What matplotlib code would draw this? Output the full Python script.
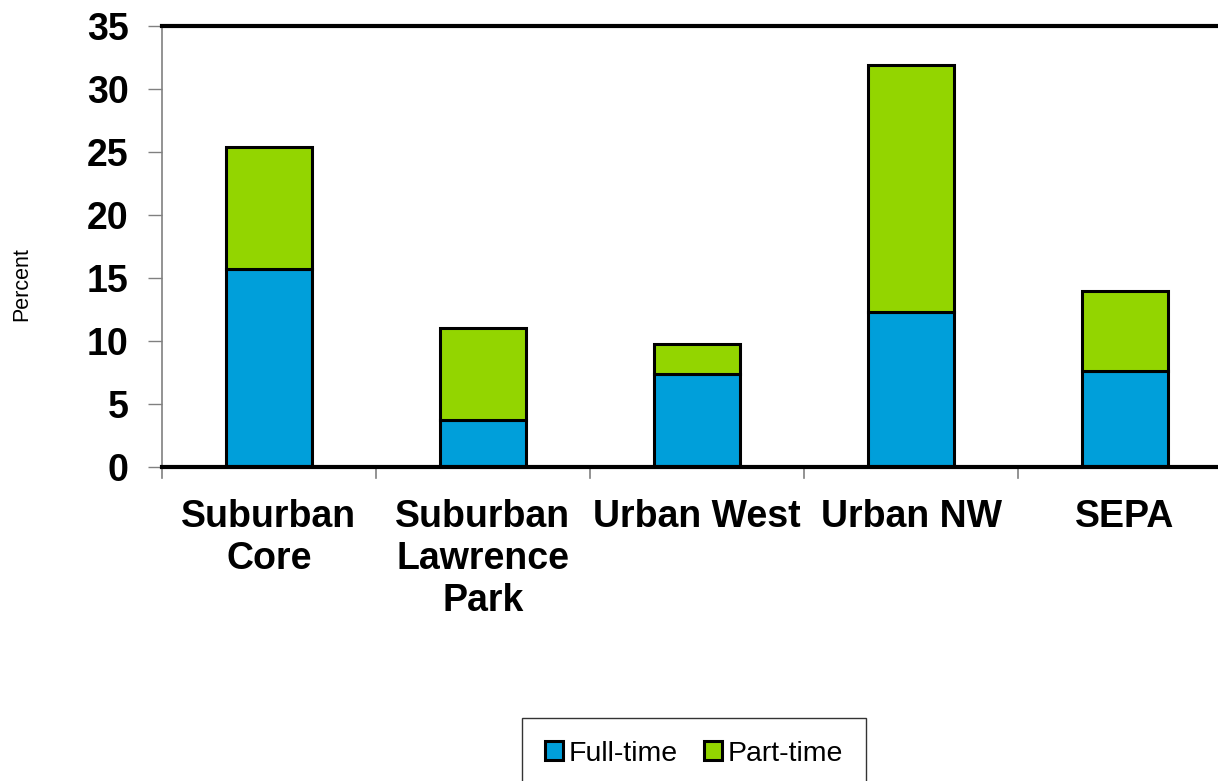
import matplotlib.pyplot as plt
import numpy as np

# Data
categories = ["Suburban\nCore", "Suburban\nLawrence\nPark", "Urban West", "Urban NW", "SEPA"]
full_time = [15.7, 3.7, 7.4, 12.3, 7.6]
part_time = [9.7, 7.3, 2.4, 19.6, 6.4]
y_ticks = [0, 5, 10, 15, 20, 25, 30, 35]

blue = "#009FDA"
green = "#93D500"

plt.rcParams["font.family"] = ["Liberation Sans", "DejaVu Sans"]

fig = plt.figure(figsize=(12.18, 7.81), dpi=100)
W, H = 1218, 781
# plot area runs past the right edge, as in the original
ax = fig.add_axes([162 / W, 1 - 467 / H, (1232 - 162) / W, (467 - 26) / H])

x = np.arange(len(categories))
ax.bar(x, full_time, width=0.4, color=blue, edgecolor="black", linewidth=2.2, label="Full-time")
ax.bar(x, part_time, width=0.4, bottom=full_time, color=green, edgecolor="black",
       linewidth=2.2, label="Part-time")

ax.set_xlim(-0.5, len(categories) - 0.5)
ax.set_ylim(0, 35)
ax.set_yticks(y_ticks)
ax.set_yticklabels([str(t) for t in y_ticks], fontsize=27, fontweight="bold")
ax.tick_params(axis="y", direction="out", length=10, width=1, color="#808080", pad=14)

# category labels centred, ticks at the boundaries
ax.set_xticks(x)
ax.set_xticklabels(categories, fontsize=27, fontweight="bold", va="top", linespacing=1.22)
ax.tick_params(axis="x", length=0, pad=23)
for b in np.arange(-0.5, len(categories), 1.0):
    ax.plot([b, b], [0, -0.024], transform=ax.get_xaxis_transform(), color="#808080",
            lw=1.2, clip_on=False)

ax.spines["left"].set_color("#808080")
ax.spines["left"].set_linewidth(1.2)
ax.spines["top"].set_linewidth(3)
ax.spines["bottom"].set_linewidth(3)
ax.spines["right"].set_visible(False)

fig.text(22 / W, 1 - 284 / H, "Percent", rotation=90, fontsize=15.5, ha="center", va="center")

leg = fig.legend(loc="upper left", bbox_to_anchor=(522 / W, 1 - 718 / H), ncol=2,
                 fontsize=20.5, frameon=True, fancybox=False, edgecolor="black",
                 handlelength=0.65, handleheight=0.65, handletextpad=0.2,
                 columnspacing=0.9, borderpad=0.8, borderaxespad=0)
leg.get_frame().set_linewidth(1)

fig.savefig("out.png", dpi=100)
